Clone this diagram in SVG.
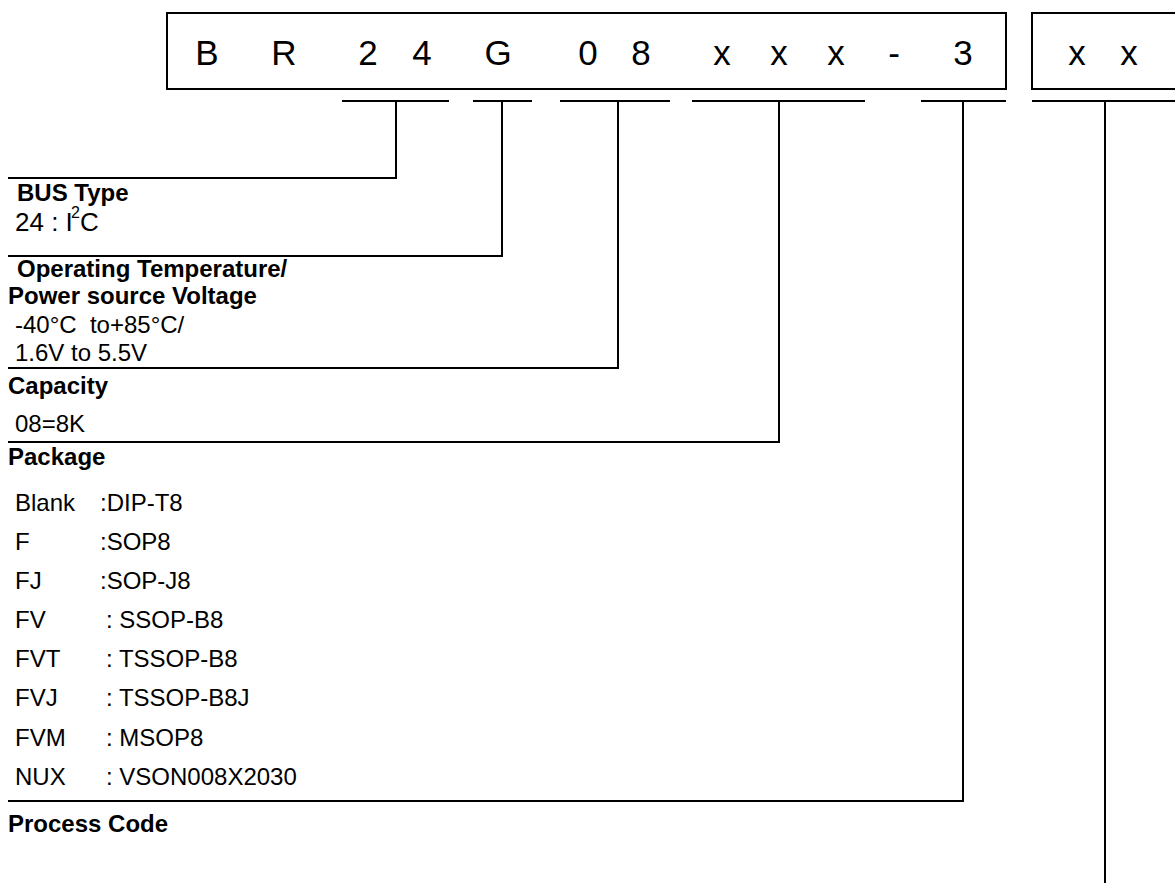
<svg xmlns="http://www.w3.org/2000/svg" width="1175" height="883" viewBox="0 0 1175 883">
<style>
  .ln { stroke: #000; stroke-width: 2; fill: none; }
  .big { font-family: "Liberation Sans", Arial, sans-serif; font-size: 35px; fill: #000; text-anchor: middle; }
  .h { font-family: "Liberation Sans", Arial, sans-serif; font-size: 24px; font-weight: bold; fill: #000; }
  .t { font-family: "Liberation Sans", Arial, sans-serif; font-size: 24px; fill: #000; }
</style>
<rect width="1175" height="883" fill="#fff"/>
<g id="partnumber">
  <rect class="ln" x="167" y="13" width="839" height="76"/>
  <text class="big" y="65"><tspan x="207">B</tspan><tspan x="284">R</tspan><tspan x="368">2</tspan><tspan x="422">4</tspan><tspan x="498">G</tspan><tspan x="588">0</tspan><tspan x="641">8</tspan><tspan x="722">x</tspan><tspan x="779">x</tspan><tspan x="836">x</tspan><tspan x="894">-</tspan><tspan x="963">3</tspan></text>
</g>
<g id="suffix">
  <rect class="ln" x="1032" y="13" width="160" height="76"/>
  <text class="big" y="65"><tspan x="1077">x</tspan><tspan x="1129">x</tspan></text>
</g>
<g id="connectors">
  <path class="ln" d="M342 101H449M396 101V178H8"/>
  <path class="ln" d="M473 101H532M502 101V256H8"/>
  <path class="ln" d="M560 101H670M618 101V368H8"/>
  <path class="ln" d="M692 101H865M779 101V442H8"/>
  <path class="ln" d="M921 101H1006M963 101V801H8"/>
  <path class="ln" d="M1032 101H1175M1105 101V883"/>
</g>
<g id="bus-type">
  <text class="h" x="17" y="201">BUS Type</text>
  <text class="t" x="15" y="231" style="font-size:26px">24 : I<tspan style="font-size:16px" x="71" dy="-13">2</tspan><tspan x="80" dy="13">C</tspan></text>
</g>
<g id="operating">
  <text class="h" x="17" y="277">Operating Temperature/</text>
  <text class="h" x="8" y="304">Power source Voltage</text>
  <text class="t" x="15" y="333" xml:space="preserve">-40°C  to+85°C/</text>
  <text class="t" x="15" y="361">1.6V to 5.5V</text>
</g>
<g id="capacity">
  <text class="h" x="8" y="394">Capacity</text>
  <text class="t" x="15" y="432">08=8K</text>
</g>
<g id="package">
  <text class="h" x="8" y="465">Package</text>
  <g class="t">
    <text x="15" y="511">Blank</text><text x="100" y="511">:DIP-T8</text>
    <text x="15" y="550">F</text><text x="100" y="550">:SOP8</text>
    <text x="15" y="589">FJ</text><text x="100" y="589">:SOP-J8</text>
    <text x="15" y="628">FV</text><text x="106" y="628">: SSOP-B8</text>
    <text x="15" y="667">FVT</text><text x="106" y="667">: TSSOP-B8</text>
    <text x="15" y="706">FVJ</text><text x="106" y="706">: TSSOP-B8J</text>
    <text x="15" y="746">FVM</text><text x="106" y="746">: MSOP8</text>
    <text x="15" y="785">NUX</text><text x="106" y="785">: VSON008X2030</text>
  </g>
</g>
<g id="process-code">
  <text class="h" x="8" y="832">Process Code</text>
</g>
</svg>
